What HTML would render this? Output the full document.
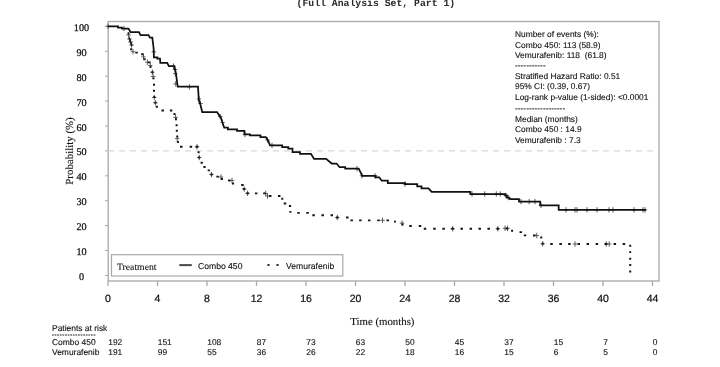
<!DOCTYPE html>
<html><head><meta charset="utf-8"><style>
html,body{margin:0;padding:0;background:#fff;}
body{width:720px;height:367px;overflow:hidden;position:relative;}
svg{position:absolute;left:0;top:0;filter:blur(0.4px);text-rendering:geometricPrecision;}
.mono{font-family:"Liberation Mono",monospace;font-weight:bold;}
.serif{font-family:"Liberation Serif",serif;stroke:#111;stroke-width:0.25px;}
.sans{font-family:"Liberation Sans",sans-serif;stroke:#111;stroke-width:0.12px;}
</style></head><body>
<svg width="720" height="367" viewBox="0 0 720 367">
<text class="mono" x="296.5" y="6" font-size="9.8" fill="#2a2a2a">(Full Analysis Set, Part 1)</text>
<rect x="108.2" y="21.5" width="550.8" height="259.5" fill="none" stroke="#a8a8a8" stroke-width="1.3"/>
<path d="M108,281 V286 M157.5,281 V286M207.0,281 V286M256.5,281 V286M306.0,281 V286M355.5,281 V286M405.0,281 V286M454.5,281 V286M504.0,281 V286M553.5,281 V286M603.0,281 V286M652.5,281 V286" stroke="#a8a8a8" stroke-width="1.3" fill="none"/>
<path d="M105,26.3 H108M105,51.3 H108M105,76.2 H108M105,101.1 H108M105,126.0 H108M105,150.9 H108M105,175.8 H108M105,200.7 H108M105,225.6 H108M105,250.5 H108M105,275.5 H108" stroke="#a8a8a8" stroke-width="1" fill="none"/>
<line x1="108" y1="150.9" x2="659" y2="150.9" stroke="#d8d8d8" stroke-width="1.4" stroke-dasharray="6 5" stroke-dashoffset="0"/>
<text class="serif" x="81.5" y="30.8" font-size="10.2" text-anchor="middle" fill="#111">100</text><text class="serif" x="81.5" y="55.8" font-size="10.2" text-anchor="middle" fill="#111">90</text><text class="serif" x="81.5" y="80.7" font-size="10.2" text-anchor="middle" fill="#111">80</text><text class="serif" x="81.5" y="105.6" font-size="10.2" text-anchor="middle" fill="#111">70</text><text class="serif" x="81.5" y="130.5" font-size="10.2" text-anchor="middle" fill="#111">60</text><text class="serif" x="81.5" y="155.4" font-size="10.2" text-anchor="middle" fill="#111">50</text><text class="serif" x="81.5" y="180.3" font-size="10.2" text-anchor="middle" fill="#111">40</text><text class="serif" x="81.5" y="205.2" font-size="10.2" text-anchor="middle" fill="#111">30</text><text class="serif" x="81.5" y="230.1" font-size="10.2" text-anchor="middle" fill="#111">20</text><text class="serif" x="81.5" y="255.0" font-size="10.2" text-anchor="middle" fill="#111">10</text><text class="serif" x="81.5" y="280.0" font-size="10.2" text-anchor="middle" fill="#111">0</text>
<text class="sans" x="108.0" y="302" font-size="10.5" text-anchor="middle" fill="#111" style="stroke-width:0.22px">0</text><text class="sans" x="157.5" y="302" font-size="10.5" text-anchor="middle" fill="#111" style="stroke-width:0.22px">4</text><text class="sans" x="207.0" y="302" font-size="10.5" text-anchor="middle" fill="#111" style="stroke-width:0.22px">8</text><text class="sans" x="256.5" y="302" font-size="10.5" text-anchor="middle" fill="#111" style="stroke-width:0.22px">12</text><text class="sans" x="306.0" y="302" font-size="10.5" text-anchor="middle" fill="#111" style="stroke-width:0.22px">16</text><text class="sans" x="355.5" y="302" font-size="10.5" text-anchor="middle" fill="#111" style="stroke-width:0.22px">20</text><text class="sans" x="405.0" y="302" font-size="10.5" text-anchor="middle" fill="#111" style="stroke-width:0.22px">24</text><text class="sans" x="454.5" y="302" font-size="10.5" text-anchor="middle" fill="#111" style="stroke-width:0.22px">28</text><text class="sans" x="504.0" y="302" font-size="10.5" text-anchor="middle" fill="#111" style="stroke-width:0.22px">32</text><text class="sans" x="553.5" y="302" font-size="10.5" text-anchor="middle" fill="#111" style="stroke-width:0.22px">36</text><text class="sans" x="603.0" y="302" font-size="10.5" text-anchor="middle" fill="#111" style="stroke-width:0.22px">40</text><text class="sans" x="652.5" y="302" font-size="10.5" text-anchor="middle" fill="#111" style="stroke-width:0.22px">44</text>
<text class="serif" transform="translate(72.9,151) rotate(-90)" x="0" y="0" font-size="10.9" text-anchor="middle" fill="#111" style="stroke-width:0.12px">Probability (%)</text>
<text class="serif" x="382.4" y="324.5" font-size="10.8" text-anchor="middle" fill="#111" style="stroke-width:0.12px">Time (months)</text>
<g class="sans" font-size="8.4" fill="#111">
<text x="515" y="37.1">Number of events (%):</text>
<text x="515" y="47.5">Combo 450: 113 (58.9)</text>
<text x="515" y="58">Vemurafenib: 118&#160; (61.8)</text>
<text x="515" y="68.3">-----------</text>
<text x="515" y="78.6">Stratified Hazard Ratio: 0.51</text>
<text x="515" y="89.1">95% CI: (0.39, 0.67)</text>
<text x="515" y="99.9">Log-rank p-value (1-sided): &lt;0.0001</text>
<text x="515" y="110.6">------------------</text>
<text x="515" y="121.9">Median (months)</text>
<text x="515" y="132.3">Combo 450 : 14.9</text>
<text x="515" y="142.6">Vemurafenib : 7.3</text>
</g>
<rect x="111.5" y="254.7" width="231.3" height="21.3" fill="#fff" stroke="#a8a8a8" stroke-width="1.2"/>
<text class="serif" x="117" y="269.6" font-size="9.7" fill="#111" style="stroke-width:0.1px">Treatment</text>
<line x1="179.3" y1="265.1" x2="191.8" y2="265.1" stroke="#4a4a4a" stroke-width="2"/>
<text class="sans" x="198" y="268.6" font-size="8.6" fill="#111">Combo 450</text>
<path d="M267.4,265 h2.2 M276.4,265 h2.2" stroke="#333" stroke-width="1.8"/>
<text class="sans" x="286" y="268.6" font-size="8.6" fill="#111">Vemurafenib</text>
<path d="M105.8,26.3h4.4M108.0,23.6v5.4M121.8,28.5h4.4M124.0,25.8v5.4M151.6,51.8h4.4M153.8,49.1v5.4M171.4,66.2h4.4M173.6,63.5v5.4M172.8,69.5h4.4M175.0,66.8v5.4M173.1,73.6h4.4M175.3,70.9v5.4M173.5,83.8h4.4M175.7,81.1v5.4M187.2,86.9h4.4M189.4,84.2v5.4M196.8,99.0h4.4M199.0,96.3v5.4M198.3,103.5h4.4M200.5,100.8v5.4M218.0,116.5h4.4M220.2,113.8v5.4M220.3,122.5h4.4M222.5,119.8v5.4M242.8,134.4h4.4M245.0,131.7v5.4M265.3,140.0h4.4M267.5,137.3v5.4M269.8,145.3h4.4M272.0,142.6v5.4M354.8,168.7h4.4M357.0,166.0v5.4M359.8,175.8h4.4M362.0,173.1v5.4M372.8,175.8h4.4M375.0,173.1v5.4M402.8,184.0h4.4M405.0,181.3v5.4M469.8,194.0h4.4M472.0,191.3v5.4M482.5,194.0h4.4M484.7,191.3v5.4M494.1,194.0h4.4M496.3,191.3v5.4M498.1,194.0h4.4M500.3,191.3v5.4M503.6,195.5h4.4M505.8,192.8v5.4M506.1,197.5h4.4M508.3,194.8v5.4M518.8,201.6h4.4M521.0,198.9v5.4M527.0,201.6h4.4M529.2,198.9v5.4M532.8,201.6h4.4M535.0,198.9v5.4M538.8,205.3h4.4M541.0,202.6v5.4M563.8,209.9h4.4M566.0,207.2v5.4M572.8,209.9h4.4M575.0,207.2v5.4M574.8,209.9h4.4M577.0,207.2v5.4M584.8,209.9h4.4M587.0,207.2v5.4M594.8,209.9h4.4M597.0,207.2v5.4M606.8,209.9h4.4M609.0,207.2v5.4M610.8,209.9h4.4M613.0,207.2v5.4M631.8,209.9h4.4M634.0,207.2v5.4M640.8,209.9h4.4M643.0,207.2v5.4M642.8,209.9h4.4M645.0,207.2v5.4" stroke="#555" stroke-width="0.95" fill="none"/>
<path d="M126.4,35.0h4.4M128.6,32.3v5.4M127.3,39.0h4.4M129.5,36.3v5.4M128.3,42.0h4.4M130.5,39.3v5.4M129.3,45.0h4.4M131.5,42.3v5.4M130.8,51.7h4.4M133.0,49.0v5.4M141.3,56.9h4.4M143.5,54.2v5.4M145.2,62.2h4.4M147.4,59.5v5.4M148.1,65.5h4.4M150.3,62.8v5.4M150.2,72.2h4.4M152.4,69.5v5.4M150.9,76.5h4.4M153.1,73.8v5.4M152.1,97.5h4.4M154.3,94.8v5.4M153.2,102.7h4.4M155.4,100.0v5.4M173.4,117.4h4.4M175.6,114.7v5.4M175.0,138.6h4.4M177.2,135.9v5.4M194.8,146.8h4.4M197.0,144.1v5.4M197.0,157.5h4.4M199.2,154.8v5.4M209.3,174.5h4.4M211.5,171.8v5.4M218.8,177.0h4.4M221.0,174.3v5.4M229.8,180.5h4.4M232.0,177.8v5.4M242.0,189.0h4.4M244.2,186.3v5.4M245.4,193.3h4.4M247.6,190.6v5.4M263.5,193.4h4.4M265.7,190.7v5.4M265.3,196.0h4.4M267.5,193.3v5.4M335.1,217.5h4.4M337.3,214.8v5.4M380.3,220.3h4.4M382.5,217.6v5.4M399.8,223.1h4.4M402.0,220.4v5.4M450.4,228.7h4.4M452.6,226.0v5.4M495.6,228.7h4.4M497.8,226.0v5.4M502.8,228.3h4.4M505.0,225.6v5.4M505.3,228.3h4.4M507.5,225.6v5.4M534.5,235.5h4.4M536.7,232.8v5.4M540.5,243.7h4.4M542.7,241.0v5.4M572.8,244.0h4.4M575.0,241.3v5.4M604.0,244.0h4.4M606.2,241.3v5.4M607.0,244.0h4.4M609.2,241.3v5.4" stroke="#555" stroke-width="0.95" fill="none"/>
<path d="M129,37.5 L132,46" stroke="#222" stroke-width="1.8"/>
<path d="M108,26.3 H118 V27.5 H122 V28.5 H128.5 L130.6,32.1 H139 L140.5,35.1 H148.5 L150,37.7 H152.3
L153.6,48 L153.9,57.3 H157.3 V58.5 H160 L160.3,62.9 H167.2 L168.9,66.2 H174.2 L175.9,73.1 L177.7,86.7 H198
L198.8,100 L200.5,105 L202.2,112 H217 L221,118 L224.2,127.7 H227.9 V129.3 H237 V130.8 H244.4 V134.4 H250 V135.4 H260.4 V137.1 H265.8
L268,140.5 L270,145.3 H282.2 V147 H288.3 V148.5 H292.5 V152.2 H300 V153.8 H311 L314,158.9 H326.1 L331.7,163.5 H336.6
L339.6,167.2 H345.2 V168.7 H358.7 L362.3,175.8 H375.5 V177.3 H379.2 L381.7,180.7 H387.8 V183.2 H405 V184 H417.2
V186.3 H421.5 V188.3 H428.5 L431.7,191.9 H470.3 V194 H505.5 V195.5 H507 V197.5 H509 L510,199.1 H519 V201.6 H540.2 V205.3 H558.7 V209.9 H646" stroke="#111" stroke-width="1.75" fill="none" stroke-linejoin="miter"/>
<path d="M127.50,33.50h2M130.20,49.30h2M135.25,52.60h2.5M141.15,54.30h2.5M143.40,59.30h2.2M148.05,62.40h2.5M149.60,66.90h2M151.40,72.20h2M152.50,78.40h2M153.00,84.70h2M153.00,90.80h2M153.30,97.00h2M154.40,102.70h2M155.70,106.80h2.2M161.45,110.50h2.5M169.85,110.50h2.5M173.50,114.00h2M175.00,119.30h2M175.60,125.20h2M175.80,130.70h2M176.30,136.50h2M176.90,142.00h2M180.05,146.70h2.5M189.65,146.70h2.5M195.75,146.80h2.5M197.60,152.30h2M198.20,157.50h2M200.60,162.70h2.2M203.40,167.00h2.2M207.70,170.40h2.2M210.40,174.50h2.2M216.35,176.60h2.5M220.80,179.00h2.2M228.05,180.50h2.5M231.90,183.50h2.2M241.15,185.00h2.5M243.20,189.00h2M246.50,193.30h2.2M254.95,193.40h2.5M263.25,193.40h2.5M268.95,196.00h2.5M277.95,196.00h2.5M281.25,198.75h2M283.75,203.50h2.5M288.90,206.00h2.2M289.40,211.90h2M297.25,212.90h2.5M306.25,212.90h2.5M312.35,215.20h2.5M321.45,215.20h2.5M330.55,215.20h2.5M336.05,217.50h2.5M346.05,217.50h2.5M350.45,220.40h2.5M359.15,220.40h2.5M367.95,220.40h2.5M377.25,220.40h2.5M386.50,220.40h2.5M394.00,221.60h2M401.50,224.50h2M409.25,226.00h2.5M418.75,226.00h2.5M423.75,228.70h2.5M433.15,228.70h2.5M442.35,228.70h2.5M451.35,228.70h2.5M460.45,228.70h2.5M469.55,228.70h2.5M478.45,228.70h2.5M487.45,228.70h2.5M496.55,228.70h2.5M505.75,228.50h2.5M511.10,230.80h2M519.55,232.10h2.5M523.75,235.40h2.5M532.95,235.50h2.5M540.25,237.50h2M541.70,243.70h2M550.25,244.00h2.5M559.35,244.00h2.5M568.15,244.00h2.5M577.50,244.00h2.5M586.55,244.00h2.5M595.65,244.00h2.5M604.75,244.00h2.5M613.55,244.00h2.5M622.65,244.00h2.5M629.20,245.70h2M629.20,252.10h2M629.20,258.70h2M629.20,265.00h2M629.20,271.50h2" stroke="#151515" stroke-width="1.9" fill="none"/>
<g class="sans" font-size="8.45" fill="#111">
<text x="52" y="330.6">Patients at risk</text>
<text x="52" y="344.6">Combo 450</text>
<text x="52" y="355">Vemurafenib</text>
</g>
<line x1="52" y1="335" x2="95.5" y2="335" stroke="#222" stroke-width="1.1" stroke-dasharray="1.8 0.8"/>
<g class="sans" font-size="8.4" fill="#111" >
<text x="108.3" y="344.8">192</text><text x="157.8" y="344.8">151</text><text x="207.3" y="344.8">108</text><text x="256.8" y="344.8">87</text><text x="306.3" y="344.8">73</text><text x="355.8" y="344.8">63</text><text x="405.3" y="344.8">50</text><text x="454.8" y="344.8">45</text><text x="504.3" y="344.8">37</text><text x="553.8" y="344.8">15</text><text x="603.3" y="344.8">7</text><text x="652.8" y="344.8">0</text>
<text x="108.3" y="355.2">191</text><text x="157.8" y="355.2">99</text><text x="207.3" y="355.2">55</text><text x="256.8" y="355.2">36</text><text x="306.3" y="355.2">26</text><text x="355.8" y="355.2">22</text><text x="405.3" y="355.2">18</text><text x="454.8" y="355.2">16</text><text x="504.3" y="355.2">15</text><text x="553.8" y="355.2">6</text><text x="603.3" y="355.2">5</text><text x="652.8" y="355.2">0</text>
</g>
</svg>
</body></html>
